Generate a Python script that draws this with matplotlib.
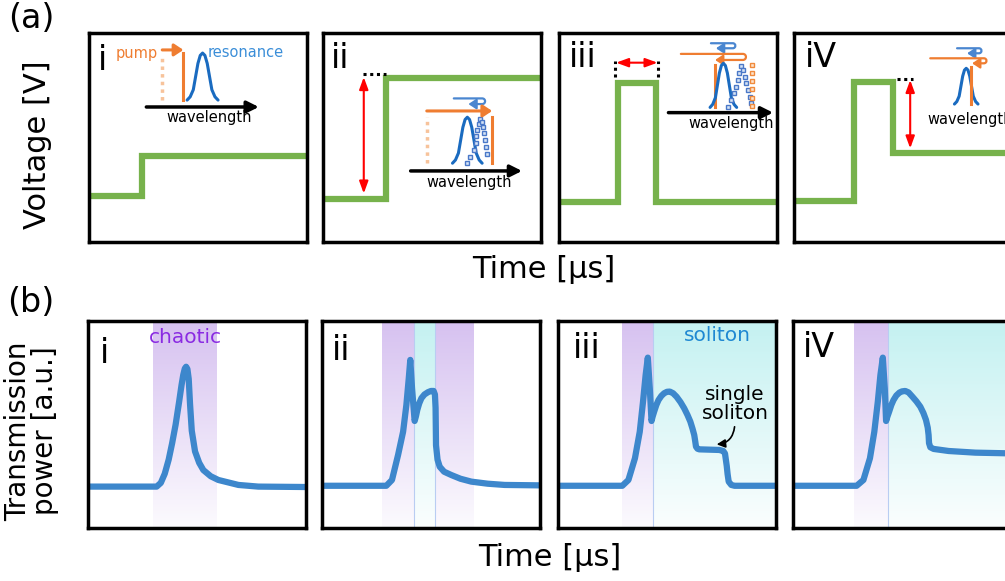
import numpy as np
import matplotlib
matplotlib.use('Agg')
import matplotlib.pyplot as plt
from matplotlib.path import Path
from matplotlib.patches import FancyArrowPatch

plt.rcParams['font.family'] = ['DejaVu Sans']

W, H = 1005, 581

panel_names = ['i', 'ii', 'iii', 'iV']

# (a) applied voltage: time and level, both as a fraction of the panel
volt_time = [
    [0, 0.243, 0.243, 1],
    [0, 0.289, 0.289, 1],
    [0, 0.27, 0.27, 0.444, 0.444, 1],
    [0, 0.275, 0.275, 0.456, 0.456, 1],
]
volt_level = [
    [0.222, 0.222, 0.413, 0.413],
    [0.206, 0.206, 0.783, 0.783],
    [0.193, 0.193, 0.762, 0.762, 0.193, 0.193],
    [0.198, 0.198, 0.767, 0.767, 0.424, 0.424],
]

# (b) transmitted power
trans_time = [
    [0, 0.315, 0.334, 0.352, 0.37, 0.386, 0.402, 0.418, 0.429, 0.437, 0.444,
     0.45, 0.456, 0.462, 0.468, 0.476, 0.491, 0.51, 0.529, 0.563, 0.598,
     0.69, 0.781, 1],
    [0, 0.295, 0.321, 0.349, 0.372, 0.387, 0.398, 0.405, 0.413, 0.425, 0.431,
     0.437, 0.446, 0.456, 0.47, 0.486, 0.5, 0.512, 0.518, 0.521, 0.523, 0.53,
     0.54, 0.56, 0.593, 0.635, 0.685, 0.76, 0.838, 1],
    [0, 0.295, 0.323, 0.353, 0.375, 0.39, 0.402, 0.412, 0.421, 0.429, 0.434,
     0.441, 0.451, 0.461, 0.474, 0.487, 0.5, 0.513, 0.528, 0.544, 0.562, 0.579,
     0.594, 0.607, 0.617, 0.625, 0.63, 0.633, 0.64, 0.648, 0.74, 0.758, 0.766,
     0.77, 0.774, 0.778, 0.783, 0.795, 0.81, 1],
    [0, 0.292, 0.323, 0.353, 0.373, 0.389, 0.401, 0.412, 0.421, 0.427, 0.433,
     0.441, 0.451, 0.461, 0.474, 0.488, 0.5, 0.515, 0.53, 0.548, 0.566, 0.584,
     0.598, 0.61, 0.618, 0.622, 0.624, 0.63, 0.645, 0.714, 0.837, 0.976, 1],
]
trans_power = [
    [0.2, 0.2, 0.218, 0.262, 0.33, 0.41, 0.5, 0.61, 0.69, 0.74, 0.77, 0.779,
     0.768, 0.72, 0.6, 0.47, 0.37, 0.315, 0.28, 0.25, 0.232, 0.208, 0.2, 0.198],
    [0.204, 0.204, 0.232, 0.353, 0.465, 0.594, 0.723, 0.812, 0.675, 0.517,
     0.54, 0.57, 0.602, 0.627, 0.645, 0.656, 0.662, 0.662, 0.645, 0.58, 0.4,
     0.33, 0.296, 0.272, 0.256, 0.238, 0.224, 0.214, 0.208, 0.206],
    [0.204, 0.204, 0.232, 0.337, 0.465, 0.61, 0.739, 0.823, 0.675, 0.517,
     0.538, 0.562, 0.594, 0.618, 0.638, 0.651, 0.658, 0.659, 0.651, 0.634,
     0.608, 0.578, 0.546, 0.514, 0.48, 0.449, 0.415, 0.393, 0.383, 0.38,
     0.377, 0.372, 0.36, 0.33, 0.3, 0.26, 0.224, 0.208, 0.204, 0.204],
    [0.204, 0.204, 0.232, 0.337, 0.465, 0.61, 0.739, 0.823, 0.675, 0.517,
     0.538, 0.562, 0.594, 0.618, 0.64, 0.654, 0.66, 0.662, 0.655, 0.634,
     0.612, 0.586, 0.556, 0.522, 0.485, 0.449, 0.41, 0.39, 0.382, 0.372,
     0.364, 0.361, 0.36],
]
chaotic_span = [(0.30, 0.59), (0.275, 0.697), (0.295, 0.436), (0.281, 0.435)]
soliton_span = [None, (0.422, 0.52), (0.436, 1.0), (0.435, 1.0)]

# resonance line shape: offset in half-widths, height fraction
res_u = [-1, -0.8, -0.6, -0.45, -0.3, -0.15, 0, 0.15, 0.3, 0.45, 0.6, 0.8, 1]
res_h = [0, 0.07, 0.22, 0.5, 0.78, 0.95, 1, 0.95, 0.78, 0.5, 0.22, 0.07, 0]

# thermally tilted resonance (dotted), panel fractions
tilt_ii_x = [0.660, 0.676, 0.691, 0.700, 0.703, 0.708, 0.714, 0.721, 0.729,
             0.734, 0.738, 0.744, 0.749, 0.753]
tilt_ii_y = [0.379, 0.408, 0.440, 0.475, 0.507, 0.536, 0.565, 0.587, 0.576,
             0.552, 0.520, 0.488, 0.456, 0.421]
tilt_iii_x = [0.776, 0.791, 0.802, 0.811, 0.819, 0.826, 0.837, 0.845, 0.853,
              0.860, 0.868, 0.876, 0.883]
tilt_iii_y = [0.647, 0.679, 0.711, 0.743, 0.775, 0.810, 0.842, 0.823, 0.791,
              0.759, 0.727, 0.695, 0.667]

GREEN = '#77b24c'
BLUE = '#3d87cc'
DBLUE = '#1a6bc0'
ORANGE = '#ef7d31'
LORANGE = '#f7c39b'


def px_axes(left, top, w, h):
    ax = fig.add_axes([left / W, 1 - (top + h) / H, w / W, h / H])
    ax.set_xticks([])
    ax.set_yticks([])
    for s in ax.spines.values():
        s.set_linewidth(2.5)
    return ax


def band(ax, x0, x1, top_rgb, edge=None):
    t = np.linspace(0, 1, 200)[:, None]
    top = np.array(top_rgb) / 255.0
    rgb = top[None, None, :] * (1 - t[:, :, None] * 0.93) + t[:, :, None] * 0.93
    ax.imshow(rgb, extent=[x0, x1, 0, 1], aspect='auto', zorder=0,
              interpolation='bilinear')
    if edge is not None:
        for x in (x0, x1):
            if x < 1:
                ax.axvline(x, color=edge, lw=0.8, zorder=0.5)


def resonance(ax, xc, yb, hw, h):
    ax.plot([xc + u * hw for u in res_u], [yb + v * h for v in res_h],
            color=DBLUE, lw=2.2, solid_capstyle='round')


def arrow(ax, x0, y0, x1, y1, color='k', lw=2.5, style='-|>,head_length=0.5,head_width=0.25', ms=14):
    ax.annotate('', xy=(x1, y1), xytext=(x0, y0),
                arrowprops=dict(arrowstyle=style, lw=lw, color=color,
                                mutation_scale=ms, shrinkA=0, shrinkB=0))


def redarrow(ax, x0, y0, x1, y1):
    arrow(ax, x0, y0, x1, y1, color='red', lw=1.5,
          style='<|-|>,head_length=0.6,head_width=0.22', ms=12)


def uturn(ax, x_start, x_turn, x_end, y_top, y_bot, color):
    r = (y_top - y_bot) * 0.5 * 4 / 3
    verts = [(x_start, y_top), (x_turn, y_top), (x_turn + r, y_top),
             (x_turn + r, y_bot), (x_turn, y_bot), (x_end, y_bot)]
    codes = [Path.MOVETO, Path.LINETO, Path.CURVE4, Path.CURVE4, Path.CURVE4,
             Path.LINETO]
    p = FancyArrowPatch(path=Path(verts, codes),
                        arrowstyle='-|>,head_length=0.45,head_width=0.3',
                        mutation_scale=10, lw=1.6, color=color)
    ax.add_patch(p)


def dotted(ax, xs, ys, color='k', lw=2.2):
    ax.plot(xs, ys, color=color, lw=lw, ls=(0, (1, 1.2)), solid_capstyle='butt',
            dash_capstyle='butt')


fig = plt.figure(figsize=(W / 100, H / 100), dpi=100)

top_left = [89, 323, 559, 794]
bot_left = [88, 322, 558, 793]
num_pos_a = [(0.04, 0.823), (0.037, 0.831), (0.045, 0.839), (0.049, 0.839)]
num_pos_b = [(0.055, 0.796), (0.046, 0.812), (0.07, 0.82), (0.046, 0.828)]

axa = []
for k in range(4):
    ax = px_axes(top_left[k], 33, 218, 209)
    ax.plot(volt_time[k], volt_level[k], color=GREEN, lw=4.5,
            solid_joinstyle='miter', solid_capstyle='butt')
    ax.text(*num_pos_a[k], panel_names[k], fontsize=24, ha='left', va='baseline')
    axa.append(ax)

axb = []
for k in range(4):
    ax = px_axes(bot_left[k], 321, 218, 207)
    band(ax, *chaotic_span[k], (214, 193, 240))
    if soliton_span[k] is not None:
        band(ax, *soliton_span[k], (196, 241, 241), edge='#b9cdf2')
    ax.plot(trans_time[k], trans_power[k], color=BLUE, lw=4.5,
            solid_joinstyle='round', solid_capstyle='butt')
    ax.text(*num_pos_b[k], panel_names[k], fontsize=24, ha='left', va='baseline')
    axb.append(ax)

for ax in axa + axb:
    ax.set_xlim(0, 1)
    ax.set_ylim(0, 1)

# ---- inset sketches in (a)
ax = axa[0]
ax.text(0.221, 0.904, 'pump', color=ORANGE, fontsize=10.5, ha='center', va='center')
ax.text(0.719, 0.909, 'resonance', color='#3b8ed8', fontsize=10.5, ha='center', va='center')
arrow(ax, 0.336, 0.919, 0.433, 0.919, color=ORANGE, lw=2.2,
      style='-|>,head_length=0.45,head_width=0.3', ms=12)
dotted(ax, [0.336, 0.336], [0.679, 0.895], color=LORANGE, lw=2.5)
ax.plot([0.433, 0.433], [0.679, 0.904], color=ORANGE, lw=2.2)
resonance(ax, 0.521, 0.679, 0.071, 0.225)
arrow(ax, 0.263, 0.646, 0.779, 0.646)
ax.text(0.553, 0.598, 'wavelength', fontsize=10.5, ha='center', va='center')

ax = axa[1]
redarrow(ax, 0.187, 0.232, 0.187, 0.789)
dotted(ax, [0.183, 0.288], [0.804, 0.804])
uturn(ax, 0.6, 0.73, 0.667, 0.687, 0.66, '#4a86d0')
arrow(ax, 0.476, 0.627, 0.776, 0.627, color=ORANGE, lw=2.2,
      style='-|>,head_length=0.45,head_width=0.3', ms=12)
dotted(ax, [0.476, 0.476], [0.377, 0.597], color=LORANGE, lw=2.5)
resonance(ax, 0.662, 0.377, 0.068, 0.22)
ax.plot(tilt_ii_x, tilt_ii_y, ls='none', marker='s', ms=3.5, mfc='#d5e3f5',
        mec='#4a78c8', mew=1)
ax.plot([0.776, 0.776], [0.377, 0.597], color=ORANGE, lw=2.2)
arrow(ax, 0.402, 0.34, 0.913, 0.34)
ax.text(0.671, 0.287, 'wavelength', fontsize=10.5, ha='center', va='center')

ax = axa[2]
dotted(ax, [0.258, 0.258], [0.791, 0.868])
dotted(ax, [0.456, 0.456], [0.791, 0.868])
redarrow(ax, 0.262, 0.858, 0.452, 0.858)
uturn(ax, 0.697, 0.797, 0.72, 0.951, 0.927, '#4a86d0')
uturn(ax, 0.559, 0.843, 0.716, 0.9, 0.871, ORANGE)
ax.plot([0.716, 0.716], [0.644, 0.847], color=ORANGE, lw=2.2)
resonance(ax, 0.754, 0.644, 0.061, 0.211)
ax.plot(tilt_iii_x, tilt_iii_y, ls='none', marker='s', ms=3.5, mfc='#d5e3f5',
        mec='#4a78c8', mew=1)
ax.plot([0.886] * 6, [0.651, 0.69, 0.73, 0.77, 0.81, 0.847], ls='none', marker='s',
        ms=3.5, mfc='#fde3cc', mec='#f08a3c', mew=1)
arrow(ax, 0.502, 0.619, 0.982, 0.619)
ax.text(0.791, 0.565, 'wavelength', fontsize=10.5, ha='center', va='center')

ax = axa[3]
dotted(ax, [0.471, 0.544], [0.78, 0.78])
redarrow(ax, 0.533, 0.448, 0.533, 0.775)
uturn(ax, 0.748, 0.848, 0.794, 0.927, 0.903, '#4a86d0')
uturn(ax, 0.625, 0.871, 0.817, 0.879, 0.855, ORANGE)
resonance(ax, 0.79, 0.66, 0.054, 0.171)
ax.plot([0.81, 0.81], [0.66, 0.839], color=ORANGE, lw=2.2)
arrow(ax, 0.611, 0.632, 1.01, 0.632)
# cut by the right edge, as in the original figure
ax.text(0.611, 0.587, 'wavelength', fontsize=10.5, ha='left', va='center')

# ---- labels in (b)
axb[0].text(0.445, 0.92, 'chaotic', color='#8a2be2', fontsize=14.5, ha='center', va='center')
axb[2].text(0.73, 0.929, 'soliton', color='#1f88d2', fontsize=14.5, ha='center', va='center')
axb[2].text(0.812, 0.6, 'single\nsoliton', fontsize=14.5, ha='center', va='center',
            linespacing=1.0)
axb[2].annotate('', xy=(0.728, 0.404), xytext=(0.81, 0.489),
                arrowprops=dict(arrowstyle='-|>,head_length=0.5,head_width=0.25',
                                lw=1.2, color='k', connectionstyle='arc3,rad=-0.4',
                                shrinkA=0, shrinkB=0, mutation_scale=10))

# ---- figure labels
fig.text(31 / W, 1 - 18 / H, '(a)', fontsize=24, ha='center', va='center')
fig.text(31 / W, 1 - 303 / H, '(b)', fontsize=24, ha='center', va='center')
fig.text(37 / W, 1 - 145 / H, 'Voltage [V]', fontsize=22, rotation=90,
         ha='center', va='center')
fig.text(32 / W, 1 - 431 / H, 'Transmission\npower [a.u.]', fontsize=20,
         rotation=90, ha='center', va='center', linespacing=0.95)
fig.text(544 / W, 1 - 269 / H, 'Time [μs]', fontsize=22, ha='center', va='center')
fig.text(550 / W, 1 - 557 / H, 'Time [μs]', fontsize=22, ha='center', va='center')

fig.savefig('out.png', dpi=100)
